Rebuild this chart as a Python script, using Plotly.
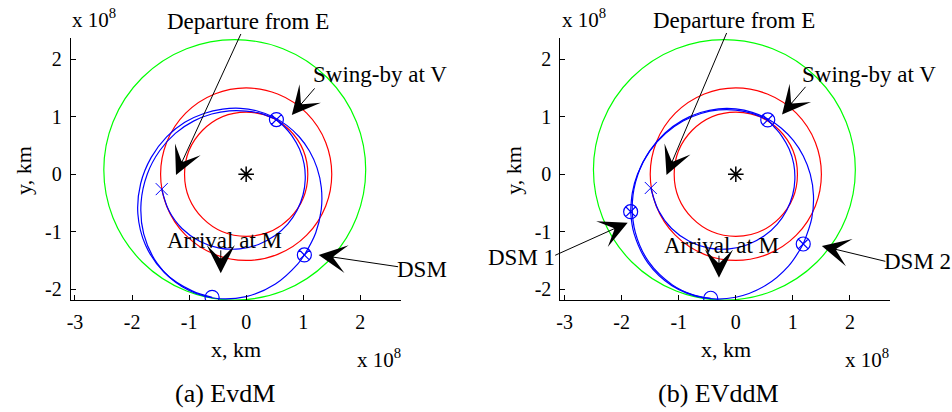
import plotly.graph_objects as go

# ---------------- data (units of 1e8 km) ----------------
# planetary orbits: centre and semi-axes
orbit_names = ["Venus", "Earth", "Mars"]
orbit_cx = [0.0, 0.0, -0.20]
orbit_cy = [0.0, 0.0, 0.075]
orbit_rx = [1.08, 1.50, 2.295]
orbit_ry = [1.08, 1.50, 2.265]

# (a) EvdM trajectory legs
a_leg1_x = [-1.48, -1.355, -1.125, -0.817, -0.468, -0.114, 0.216, 0.500, 0.728, 0.893, 0.996, 1.035, 1.015, 0.935, 0.800, 0.681, 0.53]
a_leg1_y = [-0.26, -0.632, -0.944, -1.166, -1.285, -1.299, -1.222, -1.072, -0.867, -0.626, -0.362, -0.091, 0.179, 0.436, 0.672, 0.812, 0.95]
a_leg2_x = [0.53, 0.281, 0.0, -0.295, -0.604, -0.923, -1.237, -1.517, -1.734, -1.842, -1.796, -1.556, -1.128, -0.577, 0.0, 0.512, 0.902, 1.02]
a_leg2_y = [0.95, 1.050, 1.098, 1.101, 1.046, 0.923, 0.714, 0.407, 0.0, -0.494, -1.037, -1.556, -1.954, -2.153, -2.128, -1.909, -1.563, -1.405]
a_leg3_x = [1.02, 1.218, 1.316, 1.317, 1.242, 1.109, 0.929, 0.713, 0.466, 0.194, -0.100, -0.412, -0.740, -1.076, -1.394, -1.664, -1.849, -1.898, -1.763, -1.434, -0.947, -0.597]
a_leg3_y = [-1.405, -1.022, -0.614, -0.232, 0.109, 0.403, 0.651, 0.849, 1.000, 1.099, 1.145, 1.131, 1.056, 0.903, 0.650, 0.293, -0.162, -0.691, -1.235, -1.709, -2.030, -2.141]

# (b) EVddM trajectory legs
b_leg1_x = [-1.49, -1.355, -1.125, -0.817, -0.468, -0.114, 0.216, 0.500, 0.728, 0.893, 0.996, 1.035, 1.015, 0.935, 0.800, 0.681, 0.56]
b_leg1_y = [-0.24, -0.632, -0.944, -1.166, -1.285, -1.299, -1.222, -1.072, -0.867, -0.626, -0.362, -0.091, 0.179, 0.436, 0.672, 0.812, 0.943]
b_leg2_x = [0.56, 0.283, 0.0, -0.299, -0.610, -0.924, -1.229, -1.506, -1.723, -1.813, -1.843]
b_leg2_y = [0.943, 1.058, 1.115, 1.117, 1.056, 0.924, 0.710, 0.404, 0.0, -0.320, -0.652]
b_leg3_x = [-1.843, -1.784, -1.541, -1.119, -0.576, 0.0, 0.519, 0.923, 1.182]
b_leg3_y = [-0.652, -1.030, -1.541, -1.938, -2.148, -2.140, -1.937, -1.599, -1.214]
b_leg4_x = [1.182, 1.331, 1.361, 1.305, 1.183, 1.011, 0.799, 0.556, 0.288, 0.0, -0.304, -0.619, -0.936, -1.240, -1.510, -1.715, -1.813, -1.760, -1.525, -1.111, -0.762, -0.44]
b_leg4_y = [-1.214, -0.769, -0.365, 0.0, 0.317, 0.583, 0.799, 0.963, 1.076, 1.135, 1.136, 1.072, 0.936, 0.716, 0.405, 0.0, -0.486, -1.016, -1.525, -1.925, -2.092, -2.158]

# event points
sun_xy = [0.0, 0.0]
a_depart = [-1.48, -0.26]
a_flyby_dsm_x = [0.53, 1.02]
a_flyby_dsm_y = [0.95, -1.405]
a_arrive = [-0.597, -2.141]
b_depart = [-1.49, -0.24]
b_flyby_dsm_x = [0.56, -1.843, 1.182]
b_flyby_dsm_y = [0.943, -0.652, -1.214]
b_arrive = [-0.44, -2.158]

x_ticks = [-3, -2, -1, 0, 1, 2]
y_ticks = [-2, -1, 0, 1, 2]
x_tick_labels = ["-3", "-2", "-1", "0", "1", "2"]
y_tick_labels = ["-2", "-1", "0", "1", "2"]

# ---------------- figure ----------------
W, H = 952, 412
FONT = "Liberation Serif, Times New Roman, serif"
BLUE, RED, GREEN = "#0000ff", "#ff0000", "#00ff00"
orbit_colors = [RED, RED, GREEN]
LW = 1.2

fig = go.Figure()


def add_panel(xa, ya, legs, depart, fb_x, fb_y, arrive):
    for lx, ly in legs:
        fig.add_trace(go.Scatter(x=lx, y=ly, mode="lines", xaxis=xa, yaxis=ya,
                                 line=dict(color=BLUE, width=LW, shape="spline"),
                                 hoverinfo="skip", showlegend=False))
    fig.add_trace(go.Scatter(x=[sun_xy[0]], y=[sun_xy[1]], mode="markers", xaxis=xa, yaxis=ya,
                             marker=dict(symbol="asterisk-open", size=13, color="black",
                                         line=dict(color="black", width=1.5)),
                             showlegend=False))
    fig.add_trace(go.Scatter(x=[depart[0]], y=[depart[1]], mode="markers", xaxis=xa, yaxis=ya,
                             marker=dict(symbol="x-thin-open", size=12, color=BLUE,
                                         line=dict(color=BLUE, width=1)),
                             showlegend=False))
    fig.add_trace(go.Scatter(x=fb_x, y=fb_y, mode="markers", xaxis=xa, yaxis=ya,
                             marker=dict(symbol="circle-x-open", size=14, color=BLUE,
                                         line=dict(color=BLUE, width=1.2)),
                             showlegend=False))
    fig.add_trace(go.Scatter(x=[arrive[0]], y=[arrive[1]], mode="markers", xaxis=xa, yaxis=ya,
                             marker=dict(symbol="circle-open", size=14, color=BLUE,
                                         line=dict(color=BLUE, width=1.2)),
                             showlegend=False))
    for cx, cy, rx, ry, col in zip(orbit_cx, orbit_cy, orbit_rx, orbit_ry, orbit_colors):
        fig.add_shape(type="circle", xref=xa, yref=ya,
                      x0=cx - rx, x1=cx + rx, y0=cy - ry, y1=cy + ry,
                      line=dict(color=col, width=LW), layer="below")


add_panel("x", "y", [(a_leg1_x, a_leg1_y), (a_leg2_x, a_leg2_y), (a_leg3_x, a_leg3_y)],
          a_depart, a_flyby_dsm_x, a_flyby_dsm_y, a_arrive)
add_panel("x2", "y2", [(b_leg1_x, b_leg1_y), (b_leg2_x, b_leg2_y), (b_leg3_x, b_leg3_y),
                       (b_leg4_x, b_leg4_y)],
          b_depart, b_flyby_dsm_x, b_flyby_dsm_y, b_arrive)

xr = [-3.075, 2.707]
yr = [-2.188, 2.363]
ydom = [1 - 300 / H, 1 - 38.3 / H]
axis_common = dict(showline=True, linecolor="black", linewidth=1, mirror=False,
                   showgrid=False, zeroline=False, ticks="inside", ticklen=5,
                   tickwidth=1, tickcolor="black", fixedrange=True, ticklabelstandoff=4,
                   tickfont=dict(family=FONT, size=20, color="black"))

fig.update_layout(
    width=W, height=H, margin=dict(l=0, r=0, t=0, b=0),
    paper_bgcolor="white", plot_bgcolor="white", showlegend=False,
    xaxis=dict(domain=[67 / W, 398.3 / W], range=xr, anchor="y",
               tickmode="array", tickvals=x_ticks, ticktext=x_tick_labels, **axis_common),
    yaxis=dict(domain=ydom, range=yr, anchor="x",
               tickmode="array", tickvals=y_ticks, ticktext=y_tick_labels, **axis_common),
    xaxis2=dict(domain=[558.7 / W, 890 / W], range=xr, anchor="y2",
                tickmode="array", tickvals=x_ticks, ticktext=x_tick_labels, **axis_common),
    yaxis2=dict(domain=ydom, range=yr, anchor="x2",
                tickmode="array", tickvals=y_ticks, ticktext=y_tick_labels, **axis_common),
)

anns = []


def text_ann(txt, px, py, size, angle=0, xanchor="center"):
    anns.append(dict(text=txt, x=px / W, y=1 - py / H, xref="paper", yref="paper",
                     showarrow=False, xanchor=xanchor, yanchor="middle", textangle=angle,
                     font=dict(family=FONT, size=size, color="black")))


def arrow_ann(xa, ya, tx, ty, dx, dy):
    anns.append(dict(text=" ", x=tx, y=ty, xref=xa, yref=ya, ax=dx, ay=dy,
                     axref="pixel", ayref="pixel", showarrow=True, arrowhead=3,
                     arrowsize=4.7, arrowwidth=1, arrowcolor="black",
                     font=dict(size=1)))


ANN = 23
# panel (a)
text_ann("Departure from E", 245.5, 22, ANN)
text_ann("Swing-by at V", 377.5, 74, ANN)
text_ann("Arrival at M", 221, 240.5, ANN)
text_ann("DSM", 420, 269, ANN)
text_ann("y, km", 19, 170, 22, -90)
text_ann("x, km", 233, 349, 22)
text_ann("(a) EvdM", 221.7, 393, 26)
text_ann("x 10<sup>8</sup>", 66, 19, 21, xanchor="left")
text_ann("x 10<sup>8</sup>", 352, 358, 21, xanchor="left")
arrow_ann("x", "y", -1.23, -0.014, 65.8, -143)
arrow_ann("x", "y", 0.80, 1.03, 24.3, -28.3)
arrow_ann("x", "y", -0.445, -1.724, 0, -25)
arrow_ann("x", "y", 1.27, -1.405, 81, 12)

# panel (b)
text_ann("Departure from E", 733, 21, ANN)
text_ann("Swing-by at V", 869, 74, ANN)
text_ann("Arrival at M", 721, 245.5, ANN)
text_ann("DSM 1", 520, 257, ANN)
text_ann("DSM 2", 917, 261, ANN)
text_ann("y, km", 511, 170, 22, -90)
text_ann("x, km", 725, 349, 22)
text_ann("(b) EVddM", 717.5, 393, 26)
text_ann("x 10<sup>8</sup>", 558, 19, 21, xanchor="left")
text_ann("x 10<sup>8</sup>", 843, 358, 21, xanchor="left")
arrow_ann("x2", "y2", -1.215, -0.014, 61, -144)
arrow_ann("x2", "y2", 0.81, 1.04, 25, -29.3)
arrow_ann("x2", "y2", -0.295, -1.80, 0, -24)
arrow_ann("x2", "y2", -1.895, -0.843, -74, 33.3)
arrow_ann("x2", "y2", 1.508, -1.249, 65, 15.7)

fig.update_layout(annotations=anns)
fig.write_html("out.html", config={"displayModeBar": False},
               post_script="document.body.style.margin='0';document.body.style.padding='0';")
